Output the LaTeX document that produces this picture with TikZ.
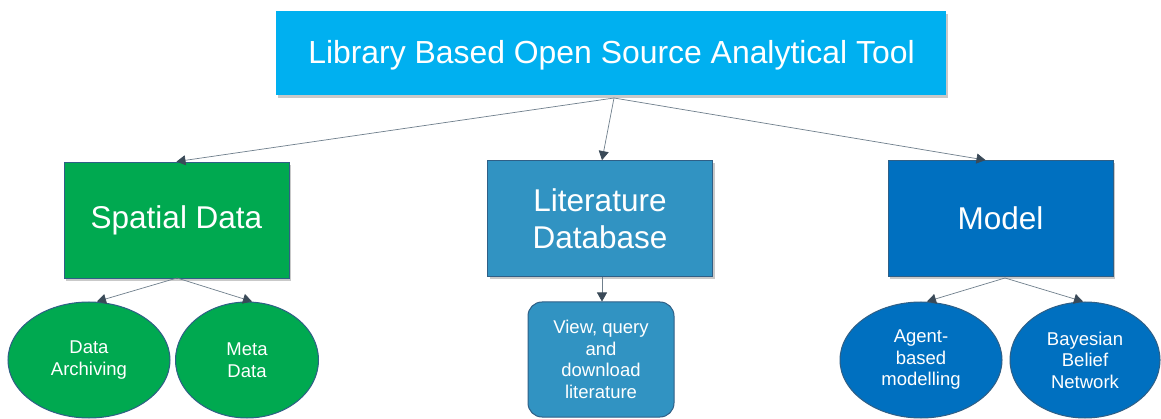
\documentclass[tikz,border=0pt]{standalone}
\usepackage{fontspec}
\setmainfont{Liberation Sans}
\usetikzlibrary{shapes.geometric,arrows.meta,shadows}
\definecolor{topblue}{HTML}{00B0F0}
\definecolor{spgreen}{HTML}{00A950}
\definecolor{litblue}{HTML}{3193C2}
\definecolor{modblue}{HTML}{0070C0}
\definecolor{edgeblue}{HTML}{2F5F86}
\definecolor{linkgrey}{HTML}{6F7F8C}
\definecolor{headgrey}{HTML}{3A4A58}
\tikzset{
  boxshadow/.style={drop shadow={shadow xshift=2pt,shadow yshift=-3pt,opacity=0.35,fill=black!60}},
  topbox/.style={rectangle,fill=topblue,draw=none,minimum width=670pt,minimum height=84pt,
    inner sep=0pt,text=white,font=\fontsize{31.9}{38}\selectfont,boxshadow},
  mainbox/.style={rectangle,draw=edgeblue,line width=0.8pt,minimum width=225pt,minimum height=116pt,
    inner sep=0pt,text=white,align=center,font=\fontsize{31.5}{37.5}\selectfont,boxshadow},
  leaf/.style={ellipse,draw=edgeblue,line width=1pt,inner sep=0pt,text=white,align=center,
    font=\fontsize{18.5}{21.5}\selectfont},
  leafbox/.style={rectangle,rounded corners=14pt,draw=edgeblue,line width=1pt,fill=litblue,
    minimum width=146pt,minimum height=115pt,inner sep=0pt,text=white,align=center,
    font=\fontsize{18.5}{21.5}\selectfont},
  link/.style={draw=linkgrey,line width=0.7pt,
    -{Triangle[length=9pt,width=10pt,color=headgrey,fill=headgrey]}}
}
\begin{document}
\begin{tikzpicture}[x=1pt,y=-1pt]
  \useasboundingbox[fill=white] (0,0) rectangle (1161,419);

  % root box spans the top; its node is placed by its centre
  \node[topbox] (root) at (611,53) {};
  \node[text=white,font=\fontsize{31.9}{38}\selectfont,inner sep=0pt] (title) at (611.5,55)
    {Library Based Open Source Analytical Tool};
  \coordinate (hub) at (614,98);

  % second level
  \node[mainbox,fill=spgreen] (spatial) at (176.5,220) {Spatial Data};
  \node[mainbox,fill=litblue] (lit) at (600,218.5) {Literature\\Database};
  \node[mainbox,fill=modblue] (model) at (1000.5,218.5) {Model};

  % leaves
  \node[leaf,fill=spgreen,minimum width=162pt,minimum height=116pt] (arch) at (89,360) {Data\\Archiving};
  \node[leaf,fill=spgreen,minimum width=143pt,minimum height=116pt] (meta) at (247,360) {Meta\\Data};
  \node[leafbox] (view) at (601,359.5) {View, query\\and\\download\\literature};
  \node[leaf,fill=modblue,minimum width=162pt,minimum height=116pt] (agent) at (921,360) {Agent-\\based\\modelling};
  \node[leaf,fill=modblue,minimum width=150pt,minimum height=116pt] (bayes) at (1085,360) {Bayesian\\Belief\\Network};

  % connectors
  \draw[link] (hub) -- (spatial.north);
  \draw[link] (hub) -- ([xshift=2pt]lit.north);
  \draw[link] (hub) -- ([xshift=-15pt]model.north);

  \coordinate (spbot) at (177,278);
  \coordinate (modbot) at (1005,278);
  \draw[link] (spbot) -- ([xshift=8pt]arch.north);
  \draw[link] (spbot) -- ([xshift=5pt]meta.north);
  \draw[link] ([xshift=2pt]lit.south) -- ([xshift=1pt]view.north);
  \draw[link] (modbot) -- ([xshift=6pt]agent.north);
  \draw[link] (modbot) -- ([xshift=-2pt]bayes.north);
\end{tikzpicture}
\end{document}
